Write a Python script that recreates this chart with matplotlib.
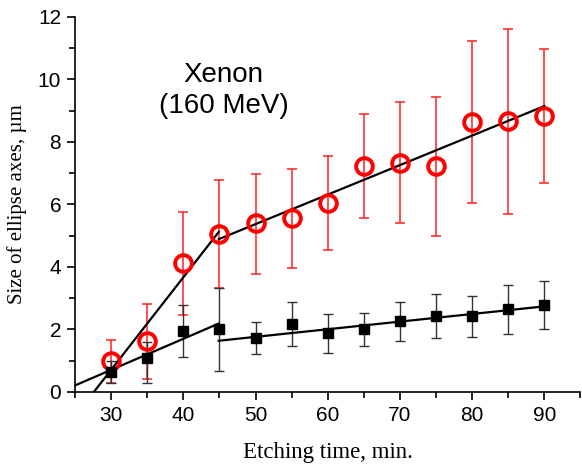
import numpy as np
import matplotlib.pyplot as plt

# etching time, min
times = [30, 35, 40, 45, 50, 55, 60, 65, 70, 75, 80, 85, 90]

# red open circles (larger axis) with asymmetric error bars
red_y = [1.0, 1.62, 4.12, 5.05, 5.4, 5.57, 6.04, 7.23, 7.34, 7.23, 8.64, 8.66, 8.84]
red_top = [1.65, 2.82, 5.77, 6.77, 6.98, 7.15, 7.55, 8.9, 9.27, 9.43, 11.22, 11.63, 10.98]
red_bot = [0.3, 0.43, 2.46, 3.34, 3.79, 3.97, 4.54, 5.57, 5.4, 4.99, 6.06, 5.7, 6.68]

# black squares (smaller axis)
blk_y = [0.65, 1.08, 1.94, 2.02, 1.74, 2.19, 1.89, 2.03, 2.26, 2.44, 2.43, 2.65, 2.79]
blk_top = [0.99, 1.61, 2.77, 3.34, 2.25, 2.87, 2.5, 2.54, 2.88, 3.13, 3.08, 3.43, 3.56]
blk_bot = [0.3, 0.28, 1.11, 0.68, 1.22, 1.48, 1.26, 1.48, 1.64, 1.73, 1.76, 1.87, 2.03]

# linear fit segments: (x0, x1), (y0, y1)
red_fit1 = ([27.6, 44.9], [0.0, 5.12])
red_fit2 = ([44.9, 90.0], [4.89, 9.15])
blk_fit1 = ([25.0, 44.9], [0.21, 2.19])
blk_fit2 = ([44.9, 90.0], [1.64, 2.74])

fig = plt.figure(figsize=(5.82, 4.68), dpi=100)
ax = fig.add_axes([0.1289, 0.1624, 0.8685, 0.8013])

def errs(y, top, bot):
    y = np.array(y)
    return [y - np.array(bot), np.array(top) - y]

ax.errorbar(times, red_y, yerr=errs(red_y, red_top, red_bot), fmt='none',
            ecolor='#ff2020', elinewidth=1.1, capsize=3.5, capthick=1.1, zorder=2)
ax.errorbar(times, blk_y, yerr=errs(blk_y, blk_top, blk_bot), fmt='none',
            ecolor='#333333', elinewidth=1.0, capsize=3.5, capthick=1.0, zorder=2)

for seg in [red_fit1, red_fit2, blk_fit1, blk_fit2]:
    ax.plot(seg[0], seg[1], color='black', lw=1.6, zorder=3)

ax.plot(times, red_y, 'o', ms=12, mfc='none', mec='red', mew=2.8, zorder=4)
ax.plot(times, blk_y, 's', ms=6.5, color='black', zorder=4)

ax.text(45.6, 9.66, "Xenon\n(160 MeV)", ha='center', va='center', fontsize=20,
        family='Liberation Sans', linespacing=1.25)

ax.set_xlim(25, 95)
ax.set_ylim(0, 12)
ax.set_xticks([30, 40, 50, 60, 70, 80, 90])
ax.set_xticks(np.arange(25, 96, 5), minor=True)
ax.set_yticks(np.arange(0, 13, 2))
ax.set_yticks(np.arange(1, 12, 2), minor=True)
ax.spines['top'].set_visible(False)
ax.spines['right'].set_visible(False)
for s in ['left', 'bottom']:
    ax.spines[s].set_linewidth(1.2)
ax.tick_params(which='major', direction='out', length=6, width=1.2,
               labelsize=15, pad=4)
ax.tick_params(which='minor', direction='out', length=4, width=1.2)
for lab in ax.get_xticklabels() + ax.get_yticklabels():
    lab.set_family('Liberation Sans')

ax.set_xlabel("Etching time, min.", family='Liberation Serif', fontsize=16.5, labelpad=12)
ax.set_ylabel("Size of ellipse axes, \u00b5m", family='Liberation Serif', fontsize=15, labelpad=8)

fig.savefig("out.png", dpi=100)
